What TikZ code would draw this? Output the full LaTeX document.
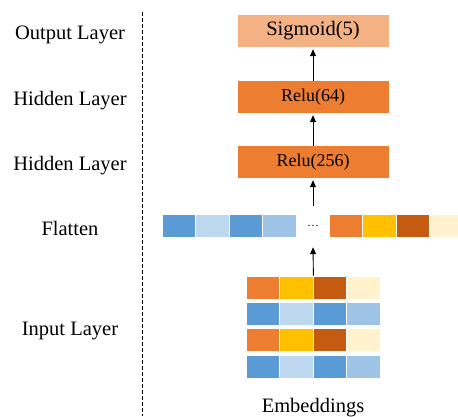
\documentclass[tikz,border=0pt]{standalone}
\usepackage{fontspec}
\setmainfont{Liberation Serif}
\usetikzlibrary{arrows.meta,positioning}
\definecolor{sigmoidfill}{HTML}{F4B183}
\definecolor{reluorange}{HTML}{ED7D31}
\definecolor{goldcell}{HTML}{FFC000}
\definecolor{darkorange}{HTML}{C55A11}
\definecolor{creamcell}{HTML}{FFF2CC}
\definecolor{bluecell}{HTML}{5B9BD5}
\definecolor{paleblue}{HTML}{BDD7EE}
\definecolor{midblue}{HTML}{9DC3E6}

\begin{document}
\begin{tikzpicture}[x=1pt, y=-1pt,
    layerbox/.style={rectangle, minimum width=151pt, minimum height=32pt, inner sep=0pt},
    cell/.style={rectangle, minimum width=33.5pt, minimum height=23pt, inner sep=0pt, draw=white, line width=0.8pt},
    lbl/.style={font=\fontsize{20.5}{24}\selectfont, anchor=base},
    flow/.style={-{Triangle[length=7pt,width=6pt]}, line width=0.9pt}]
    \useasboundingbox (0,0) rectangle (458,416);

    % layer names on the left
    \node (lbl-out) [lbl] at (70,39) {Output Layer};
    \node (lbl-hid2) [lbl] at (70,105) {Hidden Layer};
    \node (lbl-hid1) [lbl] at (70,170) {Hidden Layer};
    \node (lbl-flat) [lbl] at (70,235) {Flatten};
    \node (lbl-in) [lbl] at (70,335) {Input Layer};

    \coordinate (divtop) at (142.5,12);
    \coordinate (divbot) at (142.5,416);
    \draw [dash pattern=on 4pt off 2pt, line width=0.8pt] (divtop) -- (divbot);

    % dense layers
    \node (sigmoid) [layerbox, fill=sigmoidfill, font=\fontsize{20.5}{24}\selectfont] at (313,31) {Sigmoid(5)};
    \node (relu64) [layerbox, fill=reluorange, font=\fontsize{18}{22}\selectfont] at (313,97) {Relu(64)};
    \node (relu256) [layerbox, fill=reluorange, font=\fontsize{18}{22}\selectfont] at (313,162) {Relu(256)};

    % flatten row
    \node (dots) [minimum height=40pt, inner sep=0pt, font=\fontsize{12}{14}\selectfont] at (313,226) {\dots};
    \foreach \c [count=\i] in {bluecell,paleblue,bluecell,midblue}
        \node (flat-l\i) [cell, fill=\c] at ({162+33.5*(\i-0.5)},225.5) {};
    \foreach \c [count=\i] in {reluorange,goldcell,darkorange,creamcell}
        \node (flat-r\i) [cell, fill=\c] at ({329+33.5*(\i-0.5)},225.5) {};

    % embeddings
    \foreach \r/\ca/\cb/\cc/\cd in {1/reluorange/goldcell/darkorange/creamcell,
                                    2/bluecell/paleblue/bluecell/midblue,
                                    3/reluorange/goldcell/darkorange/creamcell,
                                    4/bluecell/paleblue/bluecell/midblue}
        \foreach \c [count=\i] in {\ca,\cb,\cc,\cd}
            \node (emb-\r-\i) [cell, fill=\c] at ({246+33.5*(\i-0.5)},{287.5+26.3*(\r-1)}) {};
    \coordinate (embtop) at (emb-1-2.north east);
    \node (emblabel) [font=\fontsize{20.5}{24}\selectfont, anchor=base] at (313,412.5) {Embeddings};

    \draw [flow, shorten >=2pt] (relu64.north) -- (sigmoid.south);
    \draw [flow, shorten >=2pt] (relu256.north) -- (relu64.south);
    \draw [flow, shorten >=2pt] (dots.north) -- (relu256.south);
    \draw [flow, shorten >=1pt] (embtop) -- (dots.south);
\end{tikzpicture}
\end{document}
